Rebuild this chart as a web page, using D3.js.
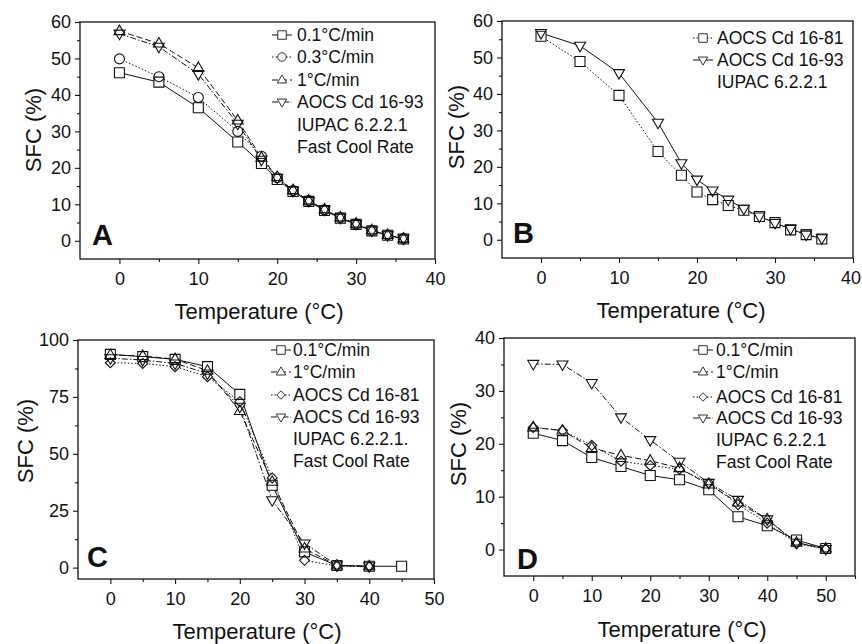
<!DOCTYPE html>
<html>
<head>
<meta charset="utf-8">
<script src="https://cdn.jsdelivr.net/npm/d3@7"></script>
<style>
  body { margin: 0; background: #fff; }
  svg { display: block; font-family: "Liberation Sans", Arial, sans-serif; }
</style>
</head>
<body>
<svg id="chart" width="862" height="644"></svg>
<script>
// panel A
const tempA = [0, 5, 10, 15, 18, 20, 22, 24, 26, 28, 30, 32, 34, 36];
const a01 = [46.1, 43.5, 36.5, 27.1, 21.2, 16.8, 13.5, 10.8, 8.3, 6.2, 4.5, 2.7, 1.5, 0.5];
const a03 = [49.9, 45.0, 39.3, 30.0, 23.2, 17.3, 13.8, 11.0, 8.5, 6.4, 4.6, 2.8, 1.6, 0.6];
const a1 = [57.5, 54.1, 47.4, 33.0, 22.8, 17.5, 13.9, 11.0, 8.6, 6.4, 4.7, 2.9, 1.6, 0.6];
const a93 = [56.8, 53.2, 45.7, 32.1, 22.2, 17.3, 13.7, 10.9, 8.5, 6.3, 4.6, 2.8, 1.5, 0.6];

// panel B
const tempB = [0, 5, 10, 15, 18, 20, 22, 24, 26, 28, 30, 32, 34, 36];
const b81 = [55.8, 48.9, 39.6, 24.2, 17.7, 13.1, 11.0, 9.4, 8.1, 6.4, 4.7, 2.7, 1.4, 0.2];
const b93 = [56.7, 53.2, 45.7, 32.1, 21.0, 16.5, 13.5, 11.0, 8.5, 6.4, 4.6, 3.0, 1.4, 0.4];

// panel C
const tempC = [0, 5, 10, 15, 20, 25, 30, 35, 40, 45];
const c01 = [93.7, 92.7, 91.5, 88.3, 76.1, 36.2, 6.9, 0.9, 0.6, 0.6];
const c1 = [93.4, 93.0, 91.6, 86.5, 68.8, 37.7, 8.4, 0.9, 0.6];
const c81 = [90.0, 89.7, 88.3, 83.9, 72.9, 39.4, 3.2, 0.7, 0.4];
const c93 = [92.0, 91.2, 89.7, 85.3, 70.7, 29.6, 10.6, 1.0, 0.6];

// panel D
const tempD = [0, 5, 10, 15, 20, 25, 30, 35, 40, 45, 50];
const d01 = [22.0, 20.6, 17.4, 15.7, 14.0, 13.2, 11.3, 6.2, 4.5, 1.8, 0.2];
const d1 = [23.1, 22.5, 19.2, 17.8, 16.8, 15.4, 12.3, 8.9, 5.7, 1.3, 0.2];
const d81 = [23.1, 22.5, 19.7, 16.7, 15.9, 15.2, 12.6, 8.5, 5.0, 1.1, 0.1];
const d93 = [35.1, 35.0, 31.5, 25.0, 20.7, 16.6, 12.6, 9.4, 5.7, 1.3, 0.1];

const ink = "#111";
const styles = {
  solid: null,
  dot: "1.5,2",
  dash: "6,3",
  dashdot: "6,2,1.5,2"
};

function markerPath(shape) {
  switch (shape) {
    case "square": return "M-5,-5H5V5H-5Z";
    case "circle": return "M5,0A5,5 0 1,1 -5,0A5,5 0 1,1 5,0Z";
    case "up": return "M0,-6L5.5,3.5L-5.5,3.5Z";
    case "down": return "M0,6L5.5,-3.5L-5.5,-3.5Z";
    case "diamond": return "M0,-5L5,0L0,5L-5,0Z";
  }
}

const panels = [
  {
    letter: "A", box: [80, 22, 435, 259], xd: [-5, 40], yd: [-5, 60],
    xt: [0, 10, 20, 30, 40], yt: [0, 10, 20, 30, 40, 50, 60], ym: 5,
    letterPos: [92, 245], xTitle: [259, 319], yTitle: [33, 130],
    legend: { x: 282, tx: 297, rows: [35, 57, 80, 102, 125, 147] },
    series: [
      { name: ["0.1°C/min"], x: tempA, y: a01, dash: styles.solid, shape: "square" },
      { name: ["0.3°C/min"], x: tempA, y: a03, dash: styles.dot, shape: "circle" },
      { name: ["1°C/min"], x: tempA, y: a1, dash: styles.dash, shape: "up" },
      { name: ["AOCS Cd 16-93", "IUPAC 6.2.2.1", "Fast Cool Rate"], x: tempA, y: a93, dash: styles.dashdot, shape: "down" }
    ]
  },
  {
    letter: "B", box: [502, 21, 853, 258], xd: [-5, 40], yd: [-5, 60],
    xt: [0, 10, 20, 30, 40], yt: [0, 10, 20, 30, 40, 50, 60], ym: 5,
    letterPos: [513, 243], xTitle: [681, 318], yTitle: [456, 127],
    legend: { x: 703, tx: 717, rows: [38, 60, 82] },
    series: [
      { name: ["AOCS Cd 16-81"], x: tempB, y: b81, dash: styles.dot, shape: "square" },
      { name: ["AOCS Cd 16-93", "IUPAC 6.2.2.1"], x: tempB, y: b93, dash: styles.solid, shape: "down" }
    ]
  },
  {
    letter: "C", box: [78, 340, 434, 579], xd: [-5, 50], yd: [-5, 100],
    xt: [0, 10, 20, 30, 40, 50], yt: [0, 25, 50, 75, 100], ym: 12.5,
    letterPos: [87, 567], xTitle: [257, 639], yTitle: [25, 441],
    legend: { x: 281, tx: 293, rows: [350, 372, 395, 417, 439, 461] },
    series: [
      { name: ["0.1°C/min"], x: tempC, y: c01, dash: styles.solid, shape: "square" },
      { name: ["1°C/min"], x: tempC, y: c1, dash: styles.dash, shape: "up" },
      { name: ["AOCS Cd 16-81"], x: tempC, y: c81, dash: styles.dot, shape: "diamond" },
      { name: ["AOCS Cd 16-93", "IUPAC 6.2.2.1.", "Fast Cool Rate"], x: tempC, y: c93, dash: styles.dashdot, shape: "down" }
    ]
  },
  {
    letter: "D", box: [504, 338, 855, 576], xd: [-5, 55], yd: [-5, 40],
    xt: [0, 10, 20, 30, 40, 50], yt: [0, 10, 20, 30, 40], ym: 5,
    letterPos: [517, 569], xTitle: [682, 637], yTitle: [458, 444],
    legend: { x: 703, tx: 716, rows: [350, 372, 397, 418, 440, 462] },
    series: [
      { name: ["0.1°C/min"], x: tempD, y: d01, dash: styles.solid, shape: "square" },
      { name: ["1°C/min"], x: tempD, y: d1, dash: styles.dash, shape: "up" },
      { name: ["AOCS Cd 16-81"], x: tempD, y: d81, dash: styles.dot, shape: "diamond" },
      { name: ["AOCS Cd 16-93", "IUPAC 6.2.2.1", "Fast Cool Rate"], x: tempD, y: d93, dash: styles.dashdot, shape: "down" }
    ]
  }
];

const svg = d3.select("#chart");
const W = +svg.attr("width");

panels.forEach(p => {
  const [x0, y0, x1, y1] = p.box;
  const x = d3.scaleLinear().domain(p.xd).range([x0, x1]);
  const y = d3.scaleLinear().domain(p.yd).range([y1, y0]);
  const g = svg.append("g");

  // minor ticks
  const xMinor = d3.range(p.xd[0], p.xd[1] + 0.01, 5).filter(v => !p.xt.includes(v) && v > p.xd[0]);
  const yMinor = d3.range(0, p.yd[1] + 0.01, p.ym).filter(v => !p.yt.includes(v));
  g.append("g")
    .attr("transform", `translate(0,${y1})`)
    .call(d3.axisBottom(x).tickValues(xMinor).tickSize(3).tickFormat(""))
    .call(a => a.select(".domain").remove());
  g.append("g")
    .attr("transform", `translate(${x0},0)`)
    .call(d3.axisLeft(y).tickValues(yMinor).tickSize(3).tickFormat(""))
    .call(a => a.select(".domain").remove());

  // major ticks
  g.append("g")
    .attr("transform", `translate(0,${y1})`)
    .call(d3.axisBottom(x).tickValues(p.xt).tickSize(5).tickPadding(8).tickFormat(d3.format("d")))
    .call(a => a.select(".domain").remove());
  g.append("g")
    .attr("transform", `translate(${x0},0)`)
    .call(d3.axisLeft(y).tickValues(p.yt).tickSize(5).tickPadding(4).tickFormat(d3.format("d")))
    .call(a => a.select(".domain").remove());

  g.selectAll(".tick line").attr("stroke", ink).attr("stroke-width", 1.1);
  g.selectAll(".tick text")
    .attr("fill", ink)
    .attr("font-size", 18)
    .attr("font-family", "'Liberation Sans', Arial, sans-serif");

  // keep the last tick label inside the page, like the original
  g.selectAll(".tick text").each(function() {
    const b = this.getBoundingClientRect();
    if (b.right > W - 1) d3.select(this).attr("dx", -(b.right - W + 1));
  });

  // frame
  g.append("rect")
    .attr("x", x0).attr("y", y0)
    .attr("width", x1 - x0).attr("height", y1 - y0)
    .attr("fill", "none").attr("stroke", ink).attr("stroke-width", 1.3);

  const line = d3.line().x(d => x(d[0])).y(d => y(d[1]));

  // lines
  p.series.forEach(s => {
    const pts = s.y.map((v, i) => [s.x[i], v]);
    g.append("path")
      .attr("d", line(pts))
      .attr("fill", "none")
      .attr("stroke", ink)
      .attr("stroke-width", 1)
      .attr("stroke-dasharray", s.dash);
  });

  // marker backgrounds then outlines
  ["bg", "fg"].forEach(layer => {
    p.series.forEach(s => {
      const pts = s.y.map((v, i) => [s.x[i], v]);
      g.append("g").selectAll("path")
        .data(pts)
        .join("path")
        .attr("transform", d => `translate(${x(d[0])},${y(d[1])})`)
        .attr("d", markerPath(s.shape))
        .attr("fill", layer === "bg" ? "#fff" : "none")
        .attr("stroke", layer === "bg" ? "none" : ink)
        .attr("stroke-width", 1.1);
    });
  });

  // legend
  const leg = g.append("g");
  let row = 0;
  p.series.forEach(s => {
    const cy = p.legend.rows[row];
    const cx = p.legend.x;
    leg.append("line")
      .attr("x1", cx - 10).attr("x2", cx + 10)
      .attr("y1", cy).attr("y2", cy)
      .attr("stroke", ink).attr("stroke-width", 1)
      .attr("stroke-dasharray", s.dash);
    leg.append("path")
      .attr("d", markerPath(s.shape))
      .attr("fill", "#fff").attr("stroke", ink).attr("stroke-width", 1)
      .attr("transform", `translate(${cx},${cy}) scale(0.85)`);
    s.name.forEach(t => {
      leg.append("text")
        .attr("x", p.legend.tx)
        .attr("y", p.legend.rows[row])
        .attr("dy", "0.36em")
        .attr("font-size", 17.5)
        .attr("fill", ink)
        .text(t);
      row++;
    });
  });

  // panel letter
  g.append("text")
    .attr("x", p.letterPos[0]).attr("y", p.letterPos[1])
    .attr("font-size", 29).attr("font-weight", "bold")
    .attr("fill", ink)
    .text(p.letter);

  // axis titles
  g.append("text")
    .attr("x", p.xTitle[0]).attr("y", p.xTitle[1])
    .attr("text-anchor", "middle")
    .attr("font-size", 22).attr("fill", ink)
    .text("Temperature (°C)");
  g.append("text")
    .attr("transform", `translate(${p.yTitle[0]},${p.yTitle[1]}) rotate(-90)`)
    .attr("text-anchor", "middle")
    .attr("dy", "0.36em")
    .attr("font-size", 22).attr("fill", ink)
    .text("SFC (%)");
});
</script>
</body>
</html>
